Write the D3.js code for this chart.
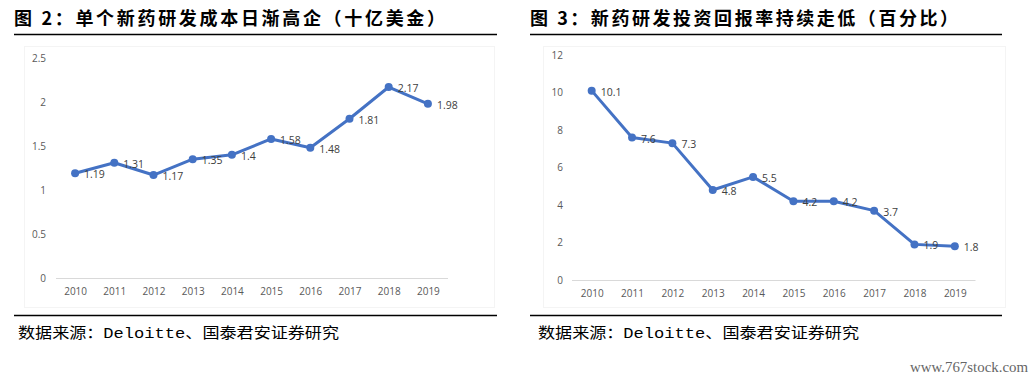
<!DOCTYPE html>
<html><head><meta charset="utf-8">
<script src="https://cdn.jsdelivr.net/npm/d3@7"></script>
<style>body{margin:0;background:#fff}svg{display:block}</style>
</head><body>
<svg id="c" width="1033" height="379"></svg>
<script>
const years = ["2010","2011","2012","2013","2014","2015","2016","2017","2018","2019"];
const costValues = [1.19,1.31,1.17,1.35,1.4,1.58,1.48,1.81,2.17,1.98];
const returnValues = [10.1,7.6,7.3,4.8,5.5,4.2,4.2,3.7,1.9,1.8];
const costTicks = [0,0.5,1,1.5,2,2.5];
const returnTicks = [0,2,4,6,8,10,12];
const titleLeft = "图 2：单个新药研发成本日渐高企（十亿美金）";
const titleRight = "图 3：新药研发投资回报率持续走低（百分比）";
const sourceText = "数据来源：Deloitte、国泰君安证券研究";
const watermark = "www.767stock.com";

const svg = d3.select("#c");
const lineColor = "#4472C4";

function panel(o){
  const g = svg.append("g");
  g.append("text").attr("x",o.titleX).attr("y",25)
    .attr("font-family","'Noto Sans CJK SC'").attr("font-weight","bold")
    .attr("font-size",18).attr("fill","#000")
    .attr("textLength",o.titleW).attr("lengthAdjust","spacing")
    .text(o.title);
  g.append("line").attr("x1",o.ruleX1).attr("x2",o.ruleX2).attr("y1",34.5).attr("y2",34.5)
    .attr("stroke","#000").attr("stroke-width",1.3);
  g.append("rect").attr("x",o.frameX+0.5).attr("y",46.5).attr("width",o.frameW).attr("height",261)
    .attr("fill","none").attr("stroke","#f4f4f4").attr("stroke-width",1);
  const x = d3.scalePoint().domain(years).range([o.x0,o.x1]).padding(0.5);
  const y = d3.scaleLinear().domain(o.domain).range([o.yBottom,o.yTop]);
  const ya = d3.axisLeft(y).tickValues(o.ticks).tickFormat(d=>String(d)).tickSize(0).tickPadding(0);
  const yg = g.append("g").attr("transform",`translate(${o.yLabelX},0)`).call(ya);
  yg.select(".domain").remove();
  yg.selectAll("text").attr("font-family","'Open Sans',Calibri,sans-serif").attr("font-size",10).attr("fill","#595959");
  const xa = d3.axisBottom(x).tickSize(0).tickPadding(10);
  const xg = g.append("g").attr("transform",`translate(0,${o.yBottom})`).call(xa);
  xg.select(".domain").attr("stroke","#d9d9d9").attr("stroke-width",1.2);
  xg.selectAll("text").attr("font-family","'Open Sans',Calibri,sans-serif").attr("font-size",10).attr("fill","#595959");
  const pts = years.map((yr,i)=>({yr,v:o.values[i]}));
  g.append("path").datum(pts)
    .attr("d",d3.line().x(d=>x(d.yr)).y(d=>y(d.v)))
    .attr("fill","none").attr("stroke",lineColor).attr("stroke-width",3).attr("stroke-linejoin","round");
  g.selectAll("circle.m").data(pts).join("circle")
    .attr("cx",d=>x(d.yr)).attr("cy",d=>y(d.v)).attr("r",4).attr("fill",lineColor);
  g.selectAll("text.lbl").data(pts).join("text")
    .attr("x",d=>x(d.yr)+9).attr("y",d=>y(d.v)+5)
    .attr("font-family","'Open Sans',Calibri,sans-serif").attr("font-size",10.5).attr("fill","#404040")
    .text(d=>d.v);
  g.append("line").attr("x1",o.ruleX1).attr("x2",o.ruleX2).attr("y1",315.5).attr("y2",315.5)
    .attr("stroke","#000").attr("stroke-width",1.3);
  g.append("text").attr("x",o.srcX).attr("y",338)
    .attr("font-family","'Liberation Mono','Noto Sans CJK SC'").attr("font-size",15).attr("fill","#000")
    .attr("textLength",321).attr("lengthAdjust","spacingAndGlyphs")
    .text(sourceText);
}

panel({title:titleLeft,titleX:14,titleW:431,ruleX1:14,ruleX2:497,frameX:24,frameW:470,srcX:18,
  x0:55.5,x1:447.5,domain:[0,2.5],yBottom:278,yTop:58,ticks:costTicks,yLabelX:46,values:costValues});
panel({title:titleRight,titleX:530,titleW:428,ruleX1:530,ruleX2:1002,frameX:543,frameW:462,srcX:538,
  x0:571.5,x1:975,domain:[0,12],yBottom:280,yTop:55,ticks:returnTicks,yLabelX:563,values:returnValues});

svg.append("text").attr("x",910).attr("y",372)
  .attr("font-family","'Liberation Serif',serif").attr("font-size",14).attr("fill","#666")
  .attr("textLength",118).attr("lengthAdjust","spacingAndGlyphs")
  .text(watermark);
</script>
</body></html>
